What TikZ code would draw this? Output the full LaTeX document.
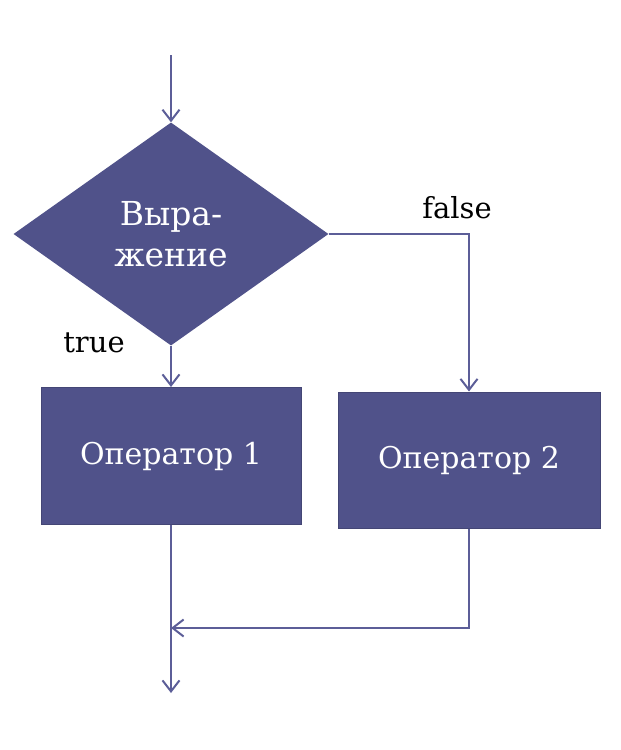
\documentclass[tikz,border=0pt]{standalone}
\usepackage{fontspec}
\setmainfont{DejaVu Serif}
\usetikzlibrary{shapes.geometric,arrows.meta,positioning}

\definecolor{blockfill}{RGB}{80,82,138}
\definecolor{flowline}{RGB}{92,94,152}

\begin{document}
\begin{tikzpicture}[x=1pt,y=-1pt,
		flow/.style={draw=flowline, line width=2pt, -{Straight Barb[length=11pt,width=17pt,line width=2pt]}},
		block/.style={rectangle, fill=blockfill, draw=blockfill!85!black, line width=1pt, text=white, font=\fontsize{30}{34}\selectfont},
		cond/.style={diamond, fill=blockfill, text=white, inner sep=0pt, align=center, font=\fontsize{33}{41}\selectfont},
		lbl/.style={text=black, font=\fontsize{29}{34}\selectfont}]
		
		\useasboundingbox (0,0) rectangle (621,750);
		
		\node (expr) at (171,234) [cond, minimum width=315pt, minimum height=223pt] {Выра-\\жение};
		\node (op1) [block, below of=expr, node distance=222pt, minimum width=260pt, minimum height=137pt] {Оператор 1};
		\node (op2) at (469,460) [block, minimum width=262pt, minimum height=136pt] {Оператор 2};
		
		\coordinate (in) at (171,55);
		\coordinate (out) at (171,693);
		\coordinate (join) at (171,628);
		
		\node (ltrue) at (94,343) [lbl] {true};
		\node (lfalse) at (457,208) [lbl] {false};
		
		\draw[flow] (in) -- (expr.north);
		\draw[flow] (expr.south) -- (op1.north);
		\draw[flow] (expr.east) -| (op2.north);
		\draw[flow] (op1.south) -- (out);
		\draw[flow] (op2.south) |- (join);
		
	\end{tikzpicture}
\end{document}
